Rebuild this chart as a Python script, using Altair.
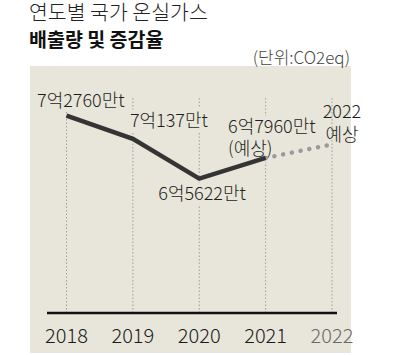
import altair as alt
import pandas as pd

# ---- data ----
years = [2018, 2019, 2020, 2021, 2022]
emissions = [72760, 70137, 65622, 67960, 69500]  # 만t CO2eq (2022 = estimate)
point_labels = ["7억2760만t", "7억137만t", "6억5622만t", "6억7960만t\n(예상)", "2022\n예상"]
year_labels = ["2018", "2019", "2020", "2021", "2022"]
title_lines = ["연도별 국가 온실가스", "배출량 및 증감율"]
unit_label = "(단위:CO2eq)"

FONT = "Noto Sans CJK KR"
BG = "#e8e6da"

df = pd.DataFrame({"year": years, "value": emissions, "label": point_labels, "ylab": year_labels})
actual = df[df["year"] <= 2021]
forecast = df[df["year"] >= 2021]

x = alt.X("year:Q", scale=alt.Scale(domain=[2018, 2022], range=[66.5, 332], nice=False, zero=False), axis=None)
y = alt.Y("value:Q", scale=alt.Scale(domain=[62000, 76000], range=[210.5, 87.1], nice=False, zero=False), axis=None)

one = pd.DataFrame({"a": [0]})

panel = alt.Chart(one).mark_rect(color=BG).encode(
    x=alt.value(30), x2=alt.value(351), y=alt.value(66), y2=alt.value(353)
)

grid = alt.Chart(df).mark_rule(color="#9c9c9c", strokeDash=[1.5, 2], strokeWidth=1).encode(
    x=x, y=alt.value(98), y2=alt.value(313)
)

# label placement per point (offsets from the data point), and whether a mask is drawn
label_specs = [
    (2018, -29.5, -8.7, "left", True),
    (2019, -3, -11.8, "left", True),
    (2020, -41, 21.4, "left", True),
    (2021, -37.6, -25, "left", True),
    (2022, 10, -26, "center", False),
]

halos = []
texts = []
for yr, dx, dy, al, mask in label_specs:
    base = alt.Chart(df).transform_filter(alt.datum.year == yr)
    if mask:
        halos.append(base.mark_text(font=FONT, fontSize=18, fontWeight=300, dx=dx, dy=dy, align=al,
                                    baseline="alphabetic", lineBreak="\n", lineHeight=22.5, stroke=BG,
                                    strokeWidth=9, strokeJoin="round", color=BG)
                     .encode(x=x, y=y, text="label:N"))
    texts.append(base.mark_text(font=FONT, fontSize=18, fontWeight=300, dx=dx, dy=dy, align=al,
                                baseline="alphabetic", lineBreak="\n", lineHeight=22.5, color="#1e1e1e")
                 .encode(x=x, y=y, text="label:N"))

baseline_rule = alt.Chart(one).mark_rule(color="#111111", strokeWidth=2.5).encode(
    x=alt.value(47), x2=alt.value(337), y=alt.value(313)
)

dotted = alt.Chart(forecast).mark_line(color="#9a9a9a", strokeWidth=4.5, strokeDash=[0.1, 8.8],
                                       strokeCap="round").encode(x=x, y=y)

solid = alt.Chart(actual).mark_line(color="#343434", strokeWidth=4.5, strokeCap="butt",
                                    strokeJoin="miter").encode(x=x, y=y)

year_text = alt.Chart(df).mark_text(font=FONT, fontSize=20, fontWeight=300, baseline="alphabetic",
                                    align="center").encode(
    x=x, y=alt.value(343), text="ylab:N",
    color=alt.condition(alt.datum.year == 2022, alt.value("#6a6a6a"), alt.value("#1a1a1a"))
)

title1 = alt.Chart(one).mark_text(font=FONT, fontSize=20.5, fontWeight=300, align="left",
                                  baseline="alphabetic", color="#222", text=title_lines[0]).encode(
    x=alt.value(29), y=alt.value(20)
)
title2 = alt.Chart(one).mark_text(font=FONT, fontSize=19.5, fontWeight="bold", align="left",
                                  baseline="alphabetic", color="#111", text=title_lines[1]).encode(
    x=alt.value(29), y=alt.value(47)
)
unit = alt.Chart(one).mark_text(font=FONT, fontSize=17, fontWeight=300, align="right",
                                baseline="alphabetic", color="#444", text=unit_label).encode(
    x=alt.value(350), y=alt.value(64)
)

chart = alt.layer(
    panel, grid, *halos, baseline_rule, dotted, solid, *texts, year_text, title1, title2, unit
).properties(
    width=400, height=355, padding=0, autosize=alt.AutoSizeParams(type="none"), background="white"
).configure_view(stroke=None)

chart.save("out.html", embed_options={"renderer": "svg", "actions": False})
